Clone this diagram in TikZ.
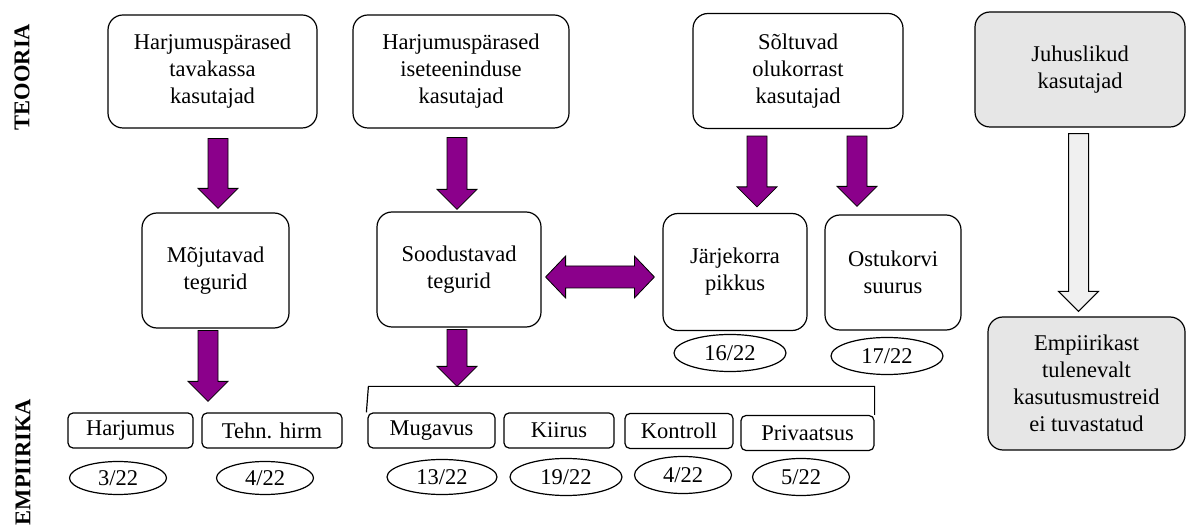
\documentclass[tikz,border=0pt]{standalone}
\usepackage{fontspec}
\setmainfont{Liberation Serif}
\usepackage{tikz}
\usetikzlibrary{shapes.geometric, calc, positioning}
\definecolor{arrowpurple}{RGB}{139,0,139}
\definecolor{boxgray}{RGB}{230,230,230}
\tikzstyle{topbox} = [rectangle, rounded corners=15pt, draw=black, line width=1.2pt, align=center, minimum width=210pt, minimum height=115pt]
\tikzstyle{midbox} = [rectangle, rounded corners=15pt, draw=black, line width=1.2pt, align=center, minimum height=115pt]
\tikzstyle{smallbox} = [rectangle, rounded corners=5pt, draw=black, line width=1.2pt, minimum height=35pt, inner sep=2pt]
\tikzstyle{countoval} = [ellipse, draw=black, line width=1.2pt, minimum width=97pt, minimum height=33pt, inner sep=0pt]
\tikzstyle{fatarrow} = [draw=black, line width=0.8pt, fill=arrowpurple]
\tikzstyle{grayarrow} = [draw=black, line width=1pt, fill=boxgray!60]
\tikzstyle{sidelabel} = [rotate=90, font=\fontsize{22.5}{27}\selectfont\bfseries]
% block arrow pointing down: style, start of shaft, tip
\newcommand{\fatdown}[3]{%
  \draw[#1] ($(#2)+(-10,0)$) -- ($(#3)+(-10,20)$) -- ($(#3)+(-20,20)$) -- (#3)
    -- ($(#3)+(20,20)$) -- ($(#3)+(10,20)$) -- ($(#2)+(10,0)$) -- cycle;}

\begin{document}
\begin{tikzpicture}[x=1pt, y=1pt, font=\fontsize{22.5}{27}\selectfont]
    \useasboundingbox (0,0) rectangle (1187,-526);

    \node (teooria) [sidelabel] at (22,-77) {TEOORIA};
    \node (empiirika) [sidelabel] at (23,-462) {EMPIIRIKA};

    % theory row
    \node (tava) [topbox, minimum width=209pt, minimum height=113pt] at (212.5,-71.5) {Harjumuspärased\\tavakassa\\kasutajad};
    \node (isete) [topbox, minimum width=216pt, minimum height=113pt] at (461,-71.5) {Harjumuspärased\\iseteeninduse\\kasutajad};
    \node (soltu) [topbox] at (798,-71) {Sõltuvad\\olukorrast\\kasutajad};
    \node (juhus) [topbox, fill=boxgray] at (1080,-69.5) {Juhuslikud\\kasutajad};

    % factors
    \node (mojut) [midbox, minimum width=147pt, node distance=199pt, below of=tava, xshift=3pt] {Mõjutavad\\tegurid};
    \node (sood) [midbox, minimum width=164pt, node distance=198pt, below of=isete, xshift=-2pt] {Soodustavad\\tegurid};
    \node (jarje) [midbox, minimum width=144pt, minimum height=117pt, node distance=201pt, below of=soltu, xshift=-63pt] {Järjekorra\\pikkus};
    \node (ostu) [midbox, minimum width=136pt, node distance=158pt, right of=jarje, yshift=-0.5pt] {Ostukorvi\\suurus};
    \node (empiir) [topbox, fill=boxgray, minimum width=197pt, minimum height=133pt, node distance=314pt, below of=juhus, xshift=6.5pt] {Empiirikast\\tulenevalt\\kasutusmustreid\\ei tuvastatud};

    % empirical row
    \node (harj) [smallbox, minimum width=125pt] at (130.5,-430.5) {Harjumus};
    \node (tehn) [smallbox, minimum width=140pt] at (272,-430.5) {Tehn. hirm};
    \node (muga) [smallbox, minimum width=127pt] at (431.5,-430.5) {Mugavus};
    \node (kiir) [smallbox, minimum width=110pt] at (559,-430.5) {Kiirus};
    \node (kont) [smallbox, minimum width=108pt] at (679,-431) {Kontroll};
    \node (priv) [smallbox, minimum width=133pt] at (807.5,-433) {Privaatsus};

    \node (n1) [countoval, node distance=47.5pt, below of=harj, xshift=-12.5pt] {3/22};
    \node (n2) [countoval, node distance=47.5pt, below of=tehn, xshift=-7pt] {4/22};
    \node (n3) [countoval, minimum width=110pt, minimum height=35pt, node distance=46.5pt, below of=muga, xshift=10.5pt] {13/22};
    \node (n4) [countoval, minimum width=112pt, minimum height=37pt, node distance=46.5pt, below of=kiir, xshift=7pt] {19/22};
    \node (n5) [countoval, minimum height=37pt, node distance=44pt, below of=kont, xshift=4pt] {4/22};
    \node (n6) [countoval, minimum height=37pt, node distance=44pt, below of=priv, xshift=-6.5pt] {5/22};
    \node (n7) [countoval, minimum width=112pt, minimum height=37pt, node distance=81pt, below of=jarje, xshift=-5pt] {16/22};
    \node (n8) [countoval, minimum width=112pt, minimum height=37pt, node distance=83.5pt, below of=ostu, xshift=-6pt] {17/22};

    % bracket over the self-service factors
    \coordinate (kl) at ($(muga.north west)+(-1,0)$);
    \coordinate (kr) at (priv.north east);
    \coordinate (ktop) at ($(kl)+(2,26)$);
    \draw [line width=1.2pt] (kl) -- (ktop) -| (kr);

    % block arrows
    \coordinate (a1) at ($(tava.south)+(5.5,-10)$);
    \coordinate (b1) at ($(a1 |- mojut.north)+(0,4)$);
    \coordinate (a2) at ($(isete.south)+(-4,-9)$);
    \coordinate (b2) at ($(a2 |- sood.north)+(0,2)$);
    \coordinate (a3) at ($(soltu.south)+(-41,-7)$);
    \coordinate (b3) at ($(a3 |- jarje.north)+(0,6)$);
    \coordinate (a4) at ($(soltu.south)+(59,-7)$);
    \coordinate (b4) at ($(a4 |- ostu.north)+(0,8)$);
    \coordinate (a5) at ($(mojut.south)+(-7.5,-2)$);
    \coordinate (b5) at ($(a5 |- harj.north)+(0,11)$);
    \coordinate (a6) at ($(sood.south)+(-2,-2)$);
    \coordinate (b6) at (a6 |- ktop);
    \coordinate (a7) at ($(juhus.south)+(-1.5,-6)$);
    \coordinate (b7) at ($(a7 |- empiir.north)+(0,5)$);

    \fatdown{fatarrow}{a1}{b1}
    \fatdown{fatarrow}{a2}{b2}
    \fatdown{fatarrow}{a3}{b3}
    \fatdown{fatarrow}{a4}{b4}
    \fatdown{fatarrow}{a5}{b5}
    \fatdown{fatarrow}{a6}{b6}
    \fatdown{grayarrow}{a7}{b7}

    % double arrow between factors
    \coordinate (dl) at ($(sood.east)+(4,-7.5)$);
    \coordinate (dr) at ($(jarje.west |- dl)+(-8,0)$);
    \draw [fatarrow] (dl) -- ($(dl)+(20,21)$) -- ($(dl)+(20,11)$) -- ($(dr)+(-20,11)$) -- ($(dr)+(-20,21)$) -- (dr)
        -- ($(dr)+(-20,-21)$) -- ($(dr)+(-20,-11)$) -- ($(dl)+(20,-11)$) -- ($(dl)+(20,-21)$) -- cycle;
\end{tikzpicture}
\end{document}
